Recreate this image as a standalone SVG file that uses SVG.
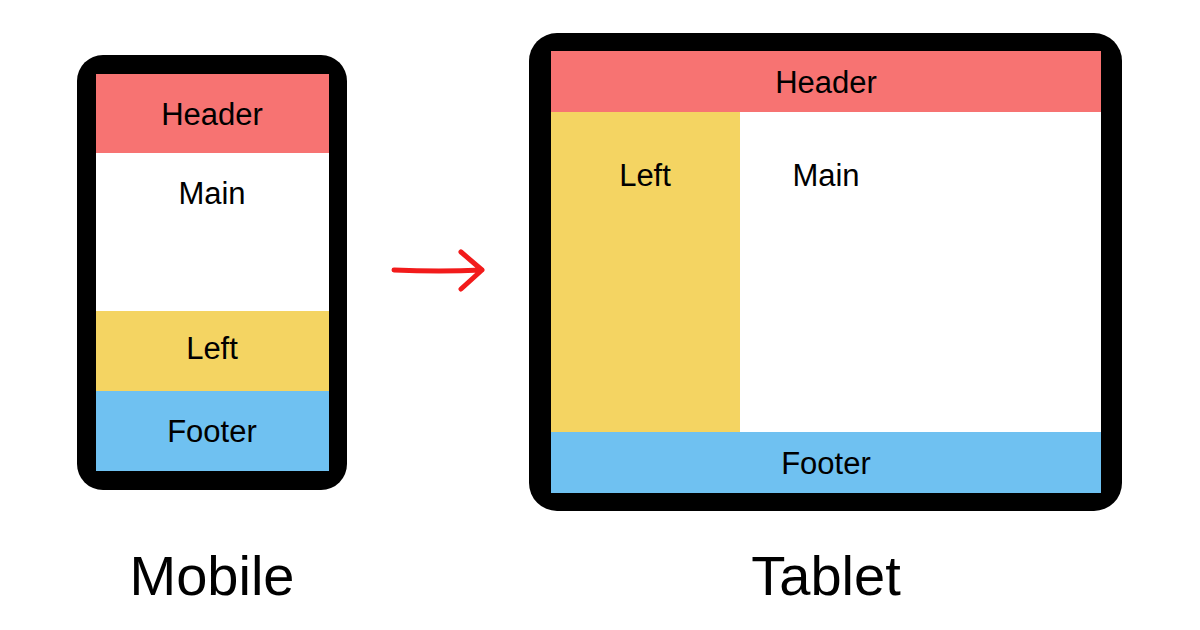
<svg xmlns="http://www.w3.org/2000/svg" width="1200" height="630" viewBox="0 0 1200 630">
<style>
.t{font-family:"Liberation Sans",Arial,sans-serif;font-size:31px;fill:#000;text-anchor:middle}
.big{font-family:"Liberation Sans",Arial,sans-serif;font-size:56px;fill:#000;text-anchor:middle}
.hd{fill:#F77372}.lf{fill:#F4D462}.ft{fill:#6FC1F1}.mn{fill:#fff}
</style>
<rect width="1200" height="630" fill="#fff"/>
<g id="mobile">
<rect x="77" y="55" width="270" height="435" rx="26" fill="#000"/>
<rect class="hd" x="96" y="74" width="233" height="79"/>
<rect class="mn" x="96" y="153" width="233" height="158"/>
<rect class="lf" x="96" y="311" width="233" height="80"/>
<rect class="ft" x="96" y="391" width="233" height="80"/>
<text class="t" x="212" y="125">Header</text>
<text class="t" x="212" y="204">Main</text>
<text class="t" x="212" y="359">Left</text>
<text class="t" x="212" y="442">Footer</text>
<text class="big" x="212" y="595">Mobile</text>
</g>
<g id="tablet">
<rect x="529" y="33" width="593" height="478" rx="28" fill="#000"/>
<rect class="hd" x="551" y="51" width="550" height="61"/>
<rect class="lf" x="551" y="112" width="189" height="320"/>
<rect class="mn" x="740" y="112" width="361" height="320"/>
<rect class="ft" x="551" y="432" width="550" height="61"/>
<text class="t" x="826" y="93">Header</text>
<text class="t" x="645" y="186">Left</text>
<text class="t" x="826" y="186">Main</text>
<text class="t" x="826" y="474">Footer</text>
<text class="big" x="826" y="595">Tablet</text>
</g>
<g id="connectors">
<path d="M394 270 Q440 272 482 270 M461 252 L482 270 L461 289" fill="none" stroke="#F21B1B" stroke-width="5" stroke-linecap="round" stroke-linejoin="round"/>
</g>
</svg>
